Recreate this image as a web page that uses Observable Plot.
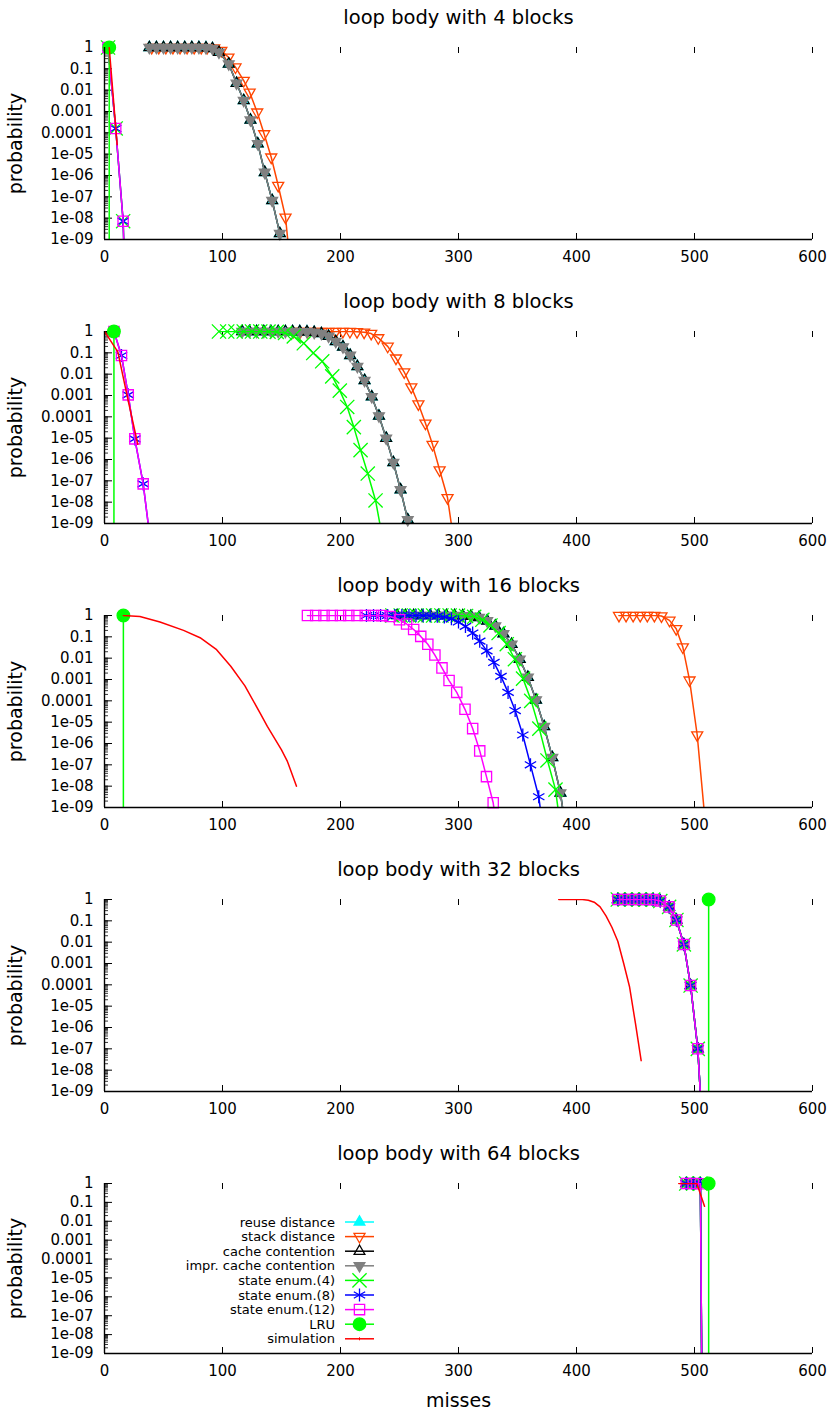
<!DOCTYPE html>
<html><head><meta charset="utf-8">
<script src="https://cdn.jsdelivr.net/npm/d3@7"></script>
<script src="https://cdn.jsdelivr.net/npm/@observablehq/plot@0.6"></script>
<style>
body{margin:0;background:#fff;}
#chart{position:relative;width:834px;height:1412px;font-family:"DejaVu Sans",sans-serif;}
#chart svg{display:block;}
#legend{position:absolute;left:0;top:0;pointer-events:none;}
</style></head><body><div id="chart"></div>
<script>
// ---------- axes / labels ----------
const xTicks = [0, 100, 200, 300, 400, 500, 600];
const yTicks = [1, 0.1, 0.01, 0.001, 0.0001, 1e-5, 1e-6, 1e-7, 1e-8, 1e-9];
const yTickLabels = ["1", "0.1", "0.01", "0.001", "0.0001", "1e-05", "1e-06", "1e-07", "1e-08", "1e-09"];
const panelTitles = ["loop body with 4 blocks", "loop body with 8 blocks", "loop body with 16 blocks", "loop body with 32 blocks", "loop body with 64 blocks"];
const seriesNames = ["reuse distance", "stack distance", "cache contention", "impr. cache contention", "state enum.(4)", "state enum.(8)", "state enum.(12)", "LRU", "simulation"];

// ---------- data: [misses, probability] ----------
// 4 blocks
const b4_cache = [[38,1],[44,1],[50,1],[56,1],[62,1],[68,1],[74,1],[80,1],[86,0.98],[91.5,0.9],[97,0.6],[105.3,0.17],[111.9,0.021],[118,3.3e-3],[123.7,4e-4],[129.9,3.1e-5],[135.8,1.4e-6],[142.1,6.7e-8],[148.6,1.9e-9],[154.6,1e-12]];
const b4_reuse = b4_cache;
const b4_impr = b4_cache;
const b4_stack = [[40,1],[46,1],[52,1],[58,1],[64,1],[70,1],[76,1],[82,1],[87,0.99],[93,0.93],[99,0.72],[105,0.35],[111,0.12],[118,0.028],[123,8e-3],[129.4,9.3e-4],[135.3,8.9e-5],[141.3,7.2e-6],[147.2,3.4e-7],[153.4,1.1e-8],[159.4,5e-12]];
const b4_se = [[3,1],[9.5,1.6e-4],[15.8,7.2e-9],[22,1e-20]];
const b4_lru = [[4,1],[4,1e-20]];
const b4_sim = [[4,1],[10.7,2.8e-5]];

// 8 blocks
const b8_cache = [[116.7,1],[122.8,1],[128.9,1],[135,1],[141.1,1],[147.2,1],[153.3,1],[159.4,0.995],[165.5,0.985],[171.6,0.97],[177.7,0.91],[183.8,0.8],[189.9,0.6],[196,0.34],[202.1,0.19],[208.2,0.076],[214.3,0.023],[220.4,5.1e-3],[226.5,8.7e-4],[232.6,1.1e-4],[238.7,1e-5],[244.8,7.2e-7],[250.9,3.8e-8],[257,1.5e-9],[263.1,1e-11]];
const b8_reuse = b8_cache;
const b8_impr = b8_cache;
const b8_stack = [[160,1],[166,1],[172,1],[178,1],[184,1],[190,1],[196,1],[202,1],[208,0.99],[214,0.97],[220,0.92],[226,0.8],[232,0.5],[240,0.2],[247,0.056],[254,0.0126],[260,2.5e-3],[266,4e-4],[272,5e-5],[278,5e-6],[284,3.2e-7],[290.7,1.6e-8],[296.5,1e-10]];
const b8_se4 = [[97,1],[104,1],[111,1],[118,1],[125,1],[132,1],[139,0.99],[146,0.96],[153,0.85],[160.4,0.59],[168.9,0.28],[176.9,0.098],[184.5,0.04],[193,7.9e-3],[199.4,1.7e-3],[205.7,2.9e-4],[211.3,3.3e-5],[217,2.75e-6],[223.1,2.2e-7],[229.7,1.2e-8],[236,1.6e-10]];
const b8_se8 = [[8,1],[14.4,0.075],[20.1,1.07e-3],[25.7,9.3e-6],[32.8,7.2e-8],[39,1.3e-10]];
const b8_se12 = b8_se8;
const b8_lru = [[8,1],[8,1e-20]];
const b8_sim = [[0,1],[11.3,0.11],[19.5,8e-4],[28.2,5.2e-6]];

// 16 blocks
const b16_cache = [[248,1],[255,1],[262,1],[269,1],[276,1],[282.9,1],[289.8,1],[296.7,0.995],[303.6,0.98],[310.5,0.93],[317.4,0.81],[324.3,0.56],[331.2,0.32],[338.1,0.14],[345,0.045],[351.9,8.9e-3],[358.8,1.26e-3],[365.7,1.1e-4],[372.6,6.3e-6],[379.5,2.2e-7],[386.4,4.8e-9],[393.3,1e-11]];
const b16_reuse = b16_cache;
const b16_impr = b16_cache;
const b16_stack = [[436,1],[442,1],[448,1],[454,1],[460,1],[466,1],[472,0.95],[478.8,0.59],[484.5,0.24],[490.1,0.033],[495.8,9.3e-4],[502.3,2.5e-6],[508.3,6e-10]];
const b16_se4 = [[244,1],[251,1],[258,1],[264.5,1],[271.5,1],[278.5,1],[285.5,1],[292.5,1],[299.5,0.99],[306.4,0.95],[313.3,0.87],[320.2,0.63],[327.1,0.34],[334,0.15],[340.9,0.045],[347.8,8.9e-3],[354.7,1.1e-3],[361.6,1e-4],[368.5,5e-6],[375.4,1.6e-7],[382.2,6.9e-9],[389,1e-11]];
const b16_se8 = [[222,1],[228,1],[234,1],[240,1],[246,1],[252,1],[258,1],[264,1],[270,0.99],[276,0.97],[282,0.93],[288,0.85],[294,0.7],[300,0.5],[305.9,0.31],[312,0.15],[318,0.063],[324,0.022],[330,6.3e-3],[336,1.4e-3],[342,2.5e-4],[348,3.5e-5],[354.5,2.5e-6],[361,1e-7],[368,3.2e-9],[374,1e-11]];
const b16_se12 = [[172,1],[179,1],[186,1],[193,1],[200,1],[207,1],[214,1],[221,1],[228,1],[235,0.99],[242,0.9],[250,0.63],[256,0.4],[262,0.22],[268,0.105],[274,0.045],[280,0.014],[286,3.5e-3],[292,8.9e-4],[298.5,2.5e-4],[305.5,4e-5],[312,5e-6],[318,4.5e-7],[323.7,2.8e-8],[329.4,1.66e-9],[335,1e-11]];
const b16_lru = [[16,1],[16,1e-20]];
const b16_sim = [[16,1],[30,0.89],[47,0.5],[67,0.2],[81,0.091],[95,0.025],[107,4.2e-3],[119,5e-4],[132,2.6e-5],[138,6.3e-6],[150,5e-7],[155,1.45e-7],[162.7,1e-8]];

// 32 blocks
const b32_all = [[435,1],[441,1],[447,1],[453,1],[459,1],[465,0.99],[471,0.85],[478.5,0.45],[484.7,0.11],[491,7.8e-3],[496.7,9.3e-5],[502.8,1e-7],[509,1e-13]];
const b32_stack = [];
const b32_lru = [[512,1],[512,1e-20]];
const b32_sim = [[385,1],[395,1],[405,0.99],[410,0.93],[415,0.75],[420,0.45],[425,0.17],[430,0.05],[435,0.011],[440,1e-3],[445,7.9e-5],[450,1.5e-6],[454.8,2.8e-8]];

// 64 blocks
const b64_all = [[493,1],[499,1],[505,0.98],[507.3,1e-20]];
const b64_stack = [];
const b64_lru = [[512,1],[512,1e-20]];
const b64_sim = [[486.7,1],[502,1],[508.5,0.063]];

const panelData = [
  [b4_reuse, b4_stack, b4_cache, b4_impr, b4_se, b4_se, b4_se, b4_lru, b4_sim],
  [b8_reuse, b8_stack, b8_cache, b8_impr, b8_se4, b8_se8, b8_se12, b8_lru, b8_sim],
  [b16_reuse, b16_stack, b16_cache, b16_impr, b16_se4, b16_se8, b16_se12, b16_lru, b16_sim],
  [b32_all, b32_stack, b32_all, b32_all, b32_all, b32_all, b32_all, b32_lru, b32_sim],
  [b64_all, b64_stack, b64_all, b64_all, b64_all, b64_all, b64_all, b64_lru, b64_sim]
];

// ---------- styles ----------
const seriesColors = ["#00ffff", "#ff4500", "#000000", "#808080", "#00ff00", "#0000ff", "#ff00ff", "#00ff00", "#ff0000"];
const seriesSymbols = ["triangle", "triangle", "triangle", "triangle", "times", "asterisk", "square", "circle", null];
const seriesFilled = [true, false, false, true, false, false, false, true, false];
const seriesRotate = [0, 180, 0, 180, 0, 0, 0, 0, 0];
const seriesR = [4, 4.1, 4, 4, 6.5, 6.2, 5.8, 6.3, 0];

const W = 834, ML = 104, MR = 22, MT = 47;
const plotW = W - ML - MR;
const minorTicks = d3.scaleLog().domain([1e-9, 1]).ticks();
const FLOOR = 1e-9;

const chart = document.getElementById("chart");

panelData.forEach((series, i) => {
  const last = i === panelData.length - 1;
  const plotH = last ? 170 : 192;
  const H = last ? 276 : 284;
  const MB = H - MT - plotH;
  const marks = [
    Plot.tickY(minorTicks, {y: d => d, insetRight: plotW - 4, stroke: "#333", strokeWidth: 1}),
    Plot.tickY(yTicks, {y: d => d, insetRight: plotW - 8, stroke: "#000", strokeWidth: 1}),
    Plot.tickX(xTicks, {x: d => d, insetTop: plotH - 6, stroke: "#000", strokeWidth: 1}),
    Plot.tickX(xTicks, {x: d => d, insetBottom: plotH - 6, stroke: "#000", strokeWidth: 1}),
    Plot.axisX(xTicks, {tickSize: 0, tickPadding: 12, label: null}),
    Plot.axisY(yTicks, {tickSize: 0, tickPadding: 11, label: null, tickFormat: d => yTickLabels[yTicks.indexOf(d)]}),
    Plot.text([panelTitles[i]], {text: d => d, frameAnchor: "top", dy: -30, fontSize: 19.5, lineAnchor: "middle", textAnchor: "middle"}),
    Plot.text(["probability"], {text: d => d, frameAnchor: "left", dx: -89, rotate: -90, fontSize: 19, lineAnchor: "middle", textAnchor: "middle"})
  ];
  if (last) marks.push(Plot.text(["misses"], {text: d => d, frameAnchor: "bottom", dy: 47, fontSize: 19, lineAnchor: "middle", textAnchor: "middle"}));
  series.forEach((data, k) => {
    if (!data.length) return;
    marks.push(Plot.line(data, {x: d => d[0], y: d => d[1], stroke: seriesColors[k], strokeWidth: 1.5, clip: true}));
    if (seriesSymbols[k]) {
      marks.push(Plot.dot(data.filter(d => d[1] >= FLOOR), {
        x: d => d[0], y: d => d[1], symbol: seriesSymbols[k], r: seriesR[k],
        stroke: seriesColors[k], strokeWidth: 1.3,
        fill: seriesFilled[k] ? seriesColors[k] : "none", rotate: seriesRotate[k]
      }));
    }
  });
  marks.push(Plot.ruleX([0], {stroke: "#000", strokeWidth: 1.4}));
  marks.push(Plot.ruleY([1e-9], {stroke: "#000", strokeWidth: 1.4}));
  const svg = Plot.plot({
    width: W, height: H,
    marginLeft: ML, marginRight: MR, marginTop: MT, marginBottom: MB,
    x: {domain: [0, 600]},
    y: {type: "log", domain: [1e-9, 1]},
    style: {fontFamily: '"DejaVu Sans", sans-serif', fontSize: "15px", color: "#000", background: "#fff", overflow: "visible"},
    marks
  });
  chart.appendChild(svg);
});

// ---------- legend (inside last panel) ----------
const symMap = {triangle: d3.symbolTriangle, times: d3.symbolTimes, asterisk: d3.symbolAsterisk, square: d3.symbolSquare, circle: d3.symbolCircle};
const leg = d3.select(chart).append("svg").attr("id", "legend").attr("width", W).attr("height", 1412)
  .style("font-family", '"DejaVu Sans", sans-serif').style("font-size", "13px");
seriesNames.forEach((name, k) => {
  const y = 1222 + 14.6 * k;
  const g = leg.append("g");
  g.append("text").attr("x", 335).attr("y", y).attr("dy", "0.35em").attr("text-anchor", "end").attr("fill", "#000").text(name);
  g.append("line").attr("x1", 345).attr("x2", 374).attr("y1", y).attr("y2", y).attr("stroke", seriesColors[k]).attr("stroke-width", 1.5);
  if (seriesSymbols[k]) {
    g.append("path")
      .attr("d", d3.symbol(symMap[seriesSymbols[k]], Math.PI * seriesR[k] * seriesR[k])())
      .attr("transform", `translate(359.5,${y}) rotate(${seriesRotate[k]})`)
      .attr("fill", seriesFilled[k] ? seriesColors[k] : "none")
      .attr("stroke", seriesColors[k]).attr("stroke-width", 1.3);
  } else {
    g.append("line").attr("x1", 359.5).attr("x2", 359.5).attr("y1", y - 1.5).attr("y2", y + 1.5).attr("stroke", seriesColors[k]).attr("stroke-width", 1);
  }
});
</script>
</body></html>
